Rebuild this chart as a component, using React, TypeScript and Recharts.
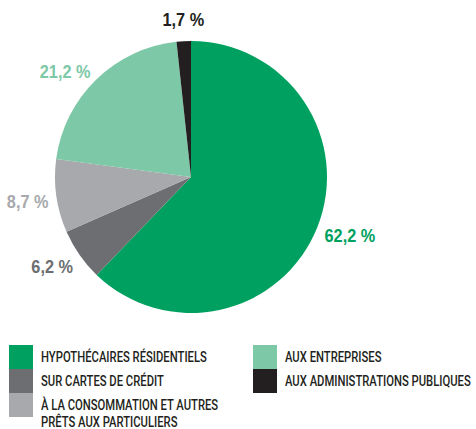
import React from 'react'
import { PieChart, Pie, Cell, Legend } from 'recharts'

const categories = [
  'HYPOTHÉCAIRES RÉSIDENTIELS',
  'SUR CARTES DE CRÉDIT',
  'À LA CONSOMMATION ET AUTRES\nPRÊTS AUX PARTICULIERS',
  'AUX ENTREPRISES',
  'AUX ADMINISTRATIONS PUBLIQUES',
]
const shares = [62.2, 6.2, 8.7, 21.2, 1.7]
const colors = ['#00a160', '#6d6e71', '#a7a9ac', '#7dc8a6', '#231f20']

const data = categories.map((name, i) => ({ name, value: shares[i] }))

const RADIAN = Math.PI / 180
const FONT = '"Liberation Sans", Arial, sans-serif'
const LEGEND_FONT = 'Roboto, "Liberation Sans", sans-serif'

const renderLabel = ({ cx, cy, midAngle, outerRadius, index, value }: any) => {
  const r = outerRadius + 8
  const cos = Math.cos(midAngle * RADIAN)
  const sin = Math.sin(midAngle * RADIAN)
  const x = cx + r * cos
  const y = cy - r * sin - 18 * sin * sin * sin + 4
  const anchor = Math.abs(cos) < 0.2 ? 'middle' : cos > 0 ? 'start' : 'end'
  return (
    <text
      transform={`translate(${x},${y}) scale(0.88,1)`}
      x={0}
      y={0}
      fill={colors[index]}
      textAnchor={anchor}
      dominantBaseline="central"
      fontFamily={FONT}
      fontWeight={700}
      fontSize={18.5}
    >
      {`${String(value).replace('.', ',')} %`}
    </text>
  )
}

const renderLegend = () => {
  const item = (i: number, left: number, top: number) => (
    <div key={i} style={{ position: 'absolute', left, top, display: 'flex' }}>
      <div style={{ width: 24, height: 24, background: colors[i], flexShrink: 0 }} />
      <div
        style={{
          marginLeft: 8,
          fontFamily: LEGEND_FONT,
          fontWeight: 500,
          fontSize: 15,
          lineHeight: '16.5px',
          paddingTop: 4,
          color: '#231f20',
          whiteSpace: 'pre',
          transform: 'scaleX(0.75)',
          transformOrigin: 'left top',
        }}
      >
        {categories[i]}
      </div>
    </div>
  )
  return (
    <div style={{ position: 'relative', width: 476, height: 90 }}>
      {item(0, 9, 0)}
      {item(1, 9, 24)}
      {item(2, 9, 48)}
      {item(3, 253, 0)}
      {item(4, 253, 24)}
    </div>
  )
}

export default function App() {
  return (
    <div style={{ position: 'absolute', left: 0, top: 0, background: '#fff' }}>
      <PieChart width={476} height={429}>
        <Pie
          data={data}
          dataKey="value"
          cx={186}
          cy={172}
          outerRadius={136}
          startAngle={90}
          endAngle={-270}
          stroke="none"
          label={renderLabel}
          labelLine={false}
          isAnimationActive={false}
        >
          {data.map((_, i) => (
            <Cell key={`cell-${i}`} fill={colors[i]} />
          ))}
        </Pie>
        <Legend
          content={renderLegend}
          wrapperStyle={{ position: 'absolute', left: 0, top: 345, width: 476 }}
        />
      </PieChart>
    </div>
  )
}
